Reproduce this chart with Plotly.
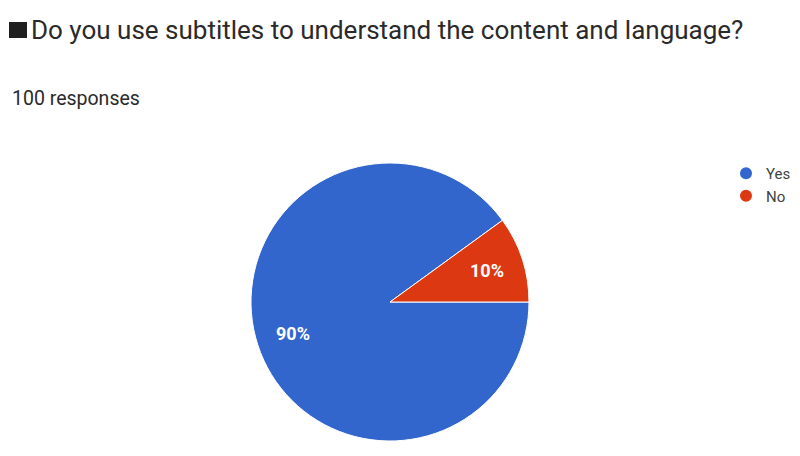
import math
import plotly.graph_objects as go

title_text = "Do you use subtitles to understand the content and language?"
subtitle_text = "100 responses"
labels = ["Yes", "No"]
values = [90, 10]
colors = ["#3366cc", "#dc3912"]

W, H = 800, 456
cx, cy, r = 390, 302, 139
label_radius = 0.73

fig = go.Figure()
fig.add_trace(go.Pie(
    labels=labels, values=values, sort=False,
    direction="clockwise", rotation=90,
    marker=dict(colors=colors, line=dict(color="white", width=1)),
    textinfo="none",
    domain=dict(x=[(cx - r) / W, (cx + r) / W], y=[(H - cy - r) / H, (H - cy + r) / H]),
    showlegend=False, hoverinfo="label+percent",
))
for name, c in zip(labels, colors):
    fig.add_trace(go.Scatter(x=[None], y=[None], mode="markers", name=name,
                             marker=dict(symbol="circle", size=14, color=c)))

# percentage labels placed at the middle angle of each slice (clockwise from 3 o'clock)
total = sum(values)
start = 0.0
for v in values:
    mid = start + v / total * 180.0  # degrees, clockwise from east
    start += v / total * 360.0
    px = cx + label_radius * r * math.cos(math.radians(mid))
    py = cy + label_radius * r * math.sin(math.radians(mid))
    fig.add_annotation(text=f"<b>{round(v / total * 100)}%</b>", xref="paper", yref="paper",
                       x=px / W, y=1 - py / H, showarrow=False,
                       xanchor="center", yanchor="middle",
                       font=dict(family="Roboto, Arial", size=18, color="white"))

fig.add_shape(type="rect", xref="paper", yref="paper",
              x0=9 / W, x1=27 / W, y0=1 - 38 / H, y1=1 - 22 / H,
              fillcolor="#1f1f1f", line=dict(width=0))
fig.add_annotation(text=title_text, xref="paper", yref="paper", x=29 / W, y=1 - 30 / H,
                   xanchor="left", yanchor="middle", showarrow=False,
                   font=dict(family="Roboto, Arial", size=26, color="#2a2a2a"))
fig.add_annotation(text=subtitle_text, xref="paper", yref="paper", x=10 / W, y=1 - 99 / H,
                   xanchor="left", yanchor="middle", showarrow=False,
                   font=dict(family="Roboto, Arial", size=19.5, color="#2a2a2a"))

fig.update_layout(
    width=W, height=H, margin=dict(l=0, r=0, t=0, b=0),
    paper_bgcolor="white", plot_bgcolor="white",
    xaxis=dict(visible=False), yaxis=dict(visible=False),
    legend=dict(x=726 / W, y=1 - 157 / H, xanchor="left", yanchor="top",
                font=dict(family="Roboto, Arial", size=15, color="#424242"),
                itemsizing="constant", bgcolor="rgba(0,0,0,0)", tracegroupgap=0),
)
fig.write_html("out.html", config={"displayModeBar": False},
               post_script="document.body.style.margin='0';")
